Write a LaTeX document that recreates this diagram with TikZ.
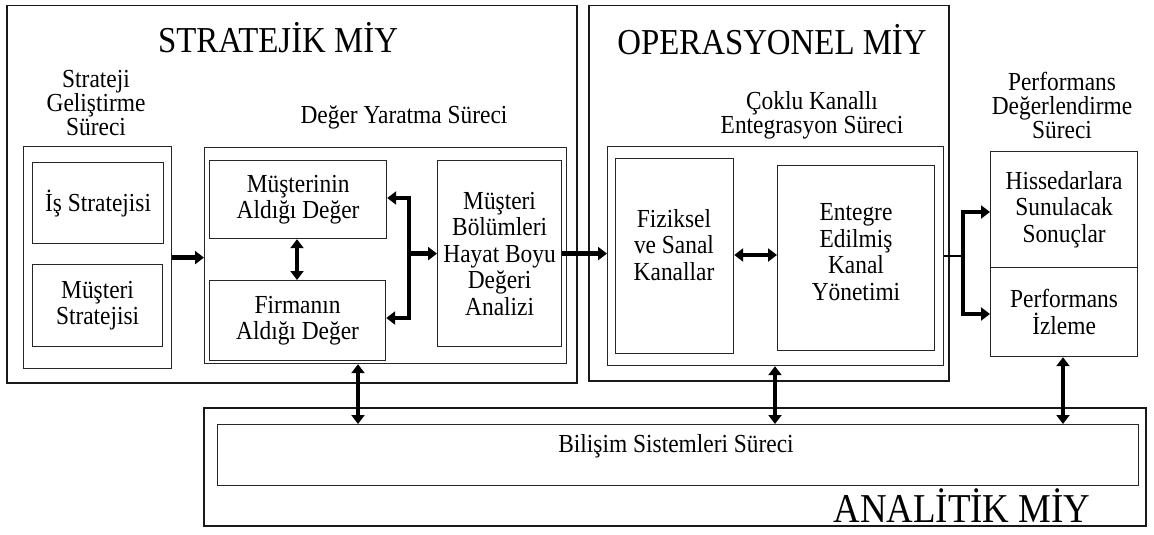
\documentclass[tikz,border=0pt]{standalone}
\usepackage{fontspec}
\setmainfont{Liberation Serif}[FakeStretch=0.9]
\usetikzlibrary{arrows.meta}
\begin{document}
\begin{tikzpicture}[x=1pt,y=-1pt,
  outer/.style={draw=black!90, line width=1.5pt, anchor=north west, inner sep=0pt},
  box/.style={draw=black!85, line width=1.2pt, anchor=north west, inner sep=0pt,
    align=center, font=\fontsize{26}{26.5}\selectfont},
  txt/.style={align=center, inner sep=0pt, font=\fontsize{26}{26.5}\selectfont},
  head/.style={align=center, inner sep=0pt, font=\fontsize{26}{24}\selectfont},
  title/.style={inner sep=0pt, font=\fontsize{36.5}{38}\selectfont},
  conn/.style={line width=4.5pt, line join=miter},
  fwd/.style={conn, -{Triangle[length=9pt,width=13pt]}},
  both/.style={conn, {Triangle[length=9pt,width=13pt]}-{Triangle[length=9pt,width=13pt]}},
  thinline/.style={line width=1.5pt}]
\useasboundingbox (0,0) rectangle (1154,535);

% three level frames
\node[outer, minimum width=570pt, minimum height=377pt] (sm) at (6,5) {};
\node[outer, minimum width=360pt, minimum height=375pt] (om) at (588,5) {};
\node[outer, minimum width=942pt, minimum height=118pt] (am) at (203,407) {};

\node[title] (tsm) at (278,38) {STRATEJİK MİY};
\node[title] (tom) at (772,40) {OPERASYONEL MİY};
\node[title, font=\fontsize{41}{42}\selectfont] (tam) at (962,506) {ANALİTİK MİY};

% strategy development
\node[head] (hsg) at (96,103) {Strateji\\Geliştirme\\Süreci};
\node[box, minimum width=148pt, minimum height=222pt] (sg) at (23,146) {};
\node[box, minimum width=131pt, minimum height=81pt] (is) at (32,162) {İş Stratejisi};
\node[box, minimum width=130pt, minimum height=82pt] (ms) at (32,264) {Müşteri\\Stratejisi};

% value creation
\node[head] (hdy) at (404,117) {Değer Yaratma Süreci};
\node[box, minimum width=362pt, minimum height=216pt] (dy) at (204,147) {};
\node[box, minimum width=177pt, minimum height=78pt] (mu) at (209,160) {Müşterinin\\Aldığı Değer};
\node[box, minimum width=176pt, minimum height=80pt] (fi) at (209,280) {Firmanın\\Aldığı Değer};
\node[box, minimum width=124pt, minimum height=186pt] (mb) at (437,160) {Müşteri\\Bölümleri\\Hayat Boyu\\Değeri\\Analizi};

% multichannel integration
\node[head] (hck) at (812,115) {Çoklu Kanallı\\Entegrasyon Süreci};
\node[box, minimum width=336pt, minimum height=219pt] (ck) at (607,146) {};
\node[box, minimum width=118pt, minimum height=195pt] (fz) at (615,158) {};
\node[txt] (fzt) at (674,245) {Fiziksel\\ve Sanal\\Kanallar};
\node[box, minimum width=157pt, minimum height=185pt] (en) at (777,165) {};
\node[txt] (ent) at (856,252) {Entegre\\Edilmiş\\Kanal\\Yönetimi};

% performance assessment
\node[head] (hpd) at (1062,105) {Performans\\Değerlendirme\\Süreci};
\node[box, minimum width=147pt, minimum height=116pt] (hs) at (990,151) {Hissedarlara\\Sunulacak\\Sonuçlar};
\node[box, minimum width=147pt, minimum height=89pt] (pi) at (990,267) {Performans\\İzleme};

% information systems
\node[box, minimum width=921pt, minimum height=61pt] (bs) at (217,424) {};
\node[txt] (bst) at (676,446) {Bilişim Sistemleri Süreci};

% connectors
\draw[fwd] (sg.east) -- (sg.east -| dy.west);
\draw[both] (mu.south -| 297,0) -- (fi.north -| 297,0);

\coordinate (b1) at (409,198);
\coordinate (b2) at (409,318);
\draw[both] (mu.east |- b1) -- (b1) -- (b2) -- (fi.east |- b2);
\draw[fwd] (b1 |- mb.west) -- (mb.west);

\draw[fwd] (mb.east) -- (mb.east -| ck.west);
\draw[both] (fz.east |- 0,255) -- (en.west |- 0,255);

\coordinate (f1) at (963,212);
\coordinate (f2) at (963,314);
\draw[thinline] (ck.east) -- (ck.east -| f1);
\draw[both] (hs.west |- f1) -- (f1) -- (f2) -- (pi.west |- f2);

\coordinate (v1) at (358,0);
\coordinate (v2) at (775,0);
\coordinate (v3) at (1063,0);
\draw[both] (dy.south -| v1) -- (bs.north -| v1);
\draw[both] (ck.south -| v2) -- (bs.north -| v2);
\draw[both] (pi.south -| v3) -- (bs.north -| v3);
\end{tikzpicture}
\end{document}
